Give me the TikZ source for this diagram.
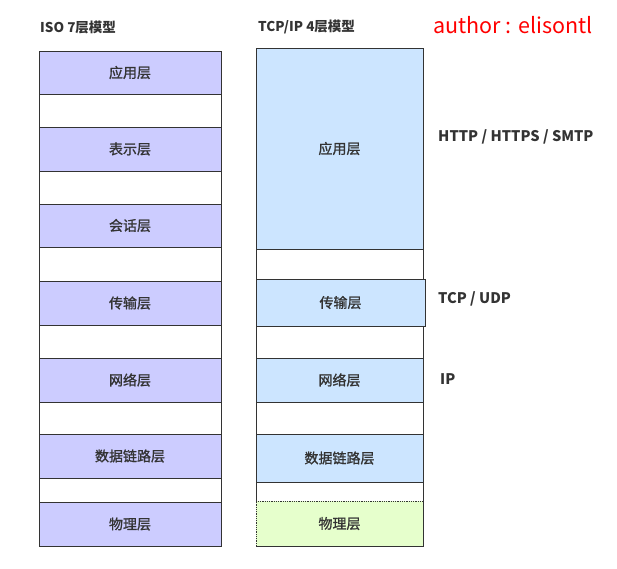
\documentclass[tikz,border=0pt]{standalone}
\usepackage{fontspec}
\setmainfont{Noto Sans CJK SC}
\newfontfamily\layerfont{Noto Sans CJK SC}[FakeBold=1.2]
\usetikzlibrary{positioning}
\definecolor{isofill}{HTML}{CCCCFF}
\definecolor{tcpfill}{HTML}{CCE5FF}
\definecolor{phyfill}{HTML}{E6FFCC}
\definecolor{txtgray}{HTML}{333333}

\begin{document}
\begin{tikzpicture}[x=1pt,y=-1pt,
    col/.style={draw=black!80,line width=0.8pt,fill=white,inner sep=0pt},
    layer/.style={draw=black!80,line width=0.8pt,inner sep=0pt,text=txtgray,font=\layerfont\fontsize{14}{16}\selectfont},
    isobox/.style={layer,fill=isofill,minimum width=182pt},
    tcpbox/.style={layer,fill=tcpfill,minimum width=167pt},
    title/.style={anchor=west,inner sep=0pt,text=txtgray,font=\fontsize{13.5}{16}\selectfont\bfseries},
    proto/.style={anchor=west,inner sep=0pt,text=txtgray,font=\fontsize{14.6}{17}\selectfont\bfseries}]
    \useasboundingbox (0,0) rectangle (617,568);

    \node [title] (isotitle) at (40,27) {ISO 7层模型};
    \node [title] (tcptitle) at (258,27) {TCP/IP 4层模型};
    \node [anchor=west,inner sep=0pt,text=red,font=\fontsize{21.5}{25}\selectfont] (author) at (433,25) {author : elisontl};

    \node [col,minimum width=182pt,minimum height=495pt] (isocol) at (130,298.5) {};
    \node [isobox,minimum height=43pt] (iso1) at (130,72.5) {应用层};
    \node [isobox,minimum height=44pt] (iso2) at (130,149) {表示层};
    \node [isobox,minimum height=43pt] (iso3) at (130,225.5) {会话层};
    \node [isobox,minimum height=44pt] (iso4) at (130,303) {传输层};
    \node [isobox,minimum height=44pt] (iso5) at (130,380) {网络层};
    \node [isobox,minimum height=44pt] (iso6) at (130,456) {数据链路层};
    \node [isobox,minimum height=44pt] (iso7) at (130,524) {物理层};

    \node [col,minimum width=167pt,minimum height=498pt] (tcpcol) at (339.5,297) {};
    \node [tcpbox,minimum height=201pt] (tcp1) at (339.5,148.5) {应用层};
    \node [tcpbox,minimum width=169pt,minimum height=47pt] (tcp2) at (340.5,302.5) {传输层};
    \node [tcpbox,minimum height=44pt] (tcp3) at (339.5,380) {网络层};
    \node [tcpbox,minimum height=48pt] (tcp4) at (339.5,458) {数据链路层};
    \node [tcpbox,fill=phyfill,densely dotted,minimum height=45pt] (tcp5) at (339.5,523.5) {物理层};

    \node [proto] (http) at (438,137) {HTTP / HTTPS / SMTP};
    \node [proto] (tcpudp) at (438,299) {TCP / UDP};
    \node [proto] (ip) at (440,379) {IP};
\end{tikzpicture}
\end{document}
